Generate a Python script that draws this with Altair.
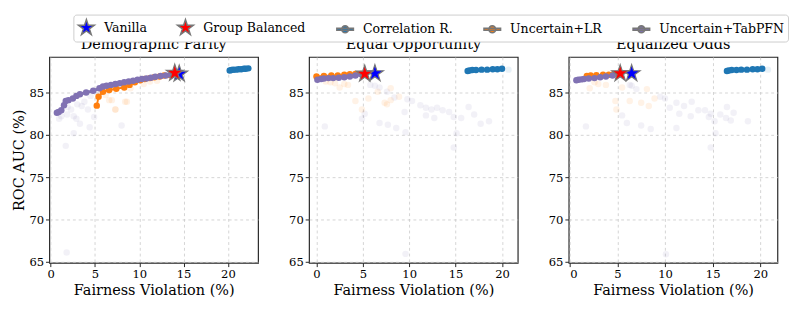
import math
import altair as alt
import pandas as pd

FONT = "DejaVu Serif"
SERIES = ["Vanilla", "Group Balanced", "Correlation R.", "Uncertain+LR", "Uncertain+TabPFN"]
C_VAN = "#0000ff"
C_GB = "#ff0000"
C_CORR = "#1f77b4"
C_LR = "#ff7f0e"
C_TAB = "#8172b3"

# ---------------- Demographic Parity ----------------
dp_tab_x = [0.7, 0.9, 1.2, 1.5, 1.7, 2.0, 2.5, 2.9, 3.3, 4.0, 4.8, 5.5, 5.9, 6.3, 6.8, 7.3, 7.8, 8.3, 8.8, 9.3, 9.8, 10.3, 10.8, 11.3, 11.8, 12.4, 13.0, 13.6]
dp_tab_y = [82.6, 82.7, 82.9, 83.5, 84.0, 84.1, 84.3, 84.6, 84.8, 85.0, 85.2, 85.5, 85.7, 85.8, 85.9, 86.0, 86.1, 86.2, 86.3, 86.4, 86.5, 86.6, 86.65, 86.75, 86.85, 86.95, 87.0, 87.1]
dp_lr_x = [5.2, 5.4, 5.9, 6.6, 7.4, 8.3, 8.9, 9.5, 10.1, 10.6, 11.2, 11.7, 12.3, 12.8, 13.5]
dp_lr_y = [83.45, 84.5, 85.1, 85.3, 85.45, 85.6, 85.9, 86.2, 86.45, 86.6, 86.7, 86.8, 86.9, 87.0, 87.05]
dp_corr_x = [20.2, 20.4, 20.6, 20.9, 21.2, 21.5, 21.8, 22.0, 22.3]
dp_corr_y = [87.6, 87.65, 87.7, 87.7, 87.75, 87.75, 87.8, 87.8, 87.85]
dp_van = (14.5, 87.2)
dp_gb = (14.0, 87.3)
dp_ftab_x = [0.95, 1.85, 2.6, 2.9, 3.3, 3.5, 4.2, 4.4, 4.9, 2.6, 1.7, 8.0, 1.9, 3.8, 1.2, 2.3, 3.0, 4.5, 1.8, 5.5, 6.0]
dp_ftab_y = [81.9, 82.4, 82.2, 81.9, 81.3, 83.4, 83.0, 80.9, 82.1, 80.2, 78.7, 81.1, 83.3, 83.9, 82.2, 83.0, 83.6, 84.6, 66.1, 85.0, 85.3]
dp_flr_x = [6.6, 7.3, 8.4, 6.9, 8.6, 7.3, 9.0, 10.5, 12.0, 6.2, 11.2]
dp_flr_y = [84.1, 83.0, 83.9, 84.1, 83.9, 83.0, 85.5, 86.0, 86.4, 84.7, 86.3]
dp_fcorr_x = []
dp_fcorr_y = []

# ---------------- Equal Opportunity ----------------
eo_tab_x = [0.1, 0.5, 0.8, 1.3, 1.8, 2.4, 3.0, 3.6, 4.2, 4.9]
eo_tab_y = [86.5, 86.6, 86.65, 86.7, 86.7, 86.75, 86.8, 86.9, 87.0, 87.1]
eo_lr_x = [0.0, 0.8, 1.6, 2.3, 3.0, 3.6, 4.2, 4.8]
eo_lr_y = [86.9, 86.95, 87.0, 87.0, 87.1, 87.15, 87.2, 87.2]
eo_corr_x = [16.3, 16.5, 16.8, 17.2, 17.8, 18.4, 19.0, 19.5, 20.0]
eo_corr_y = [87.55, 87.6, 87.65, 87.65, 87.7, 87.7, 87.75, 87.75, 87.8]
eo_van = (6.3, 87.25)
eo_gb = (5.2, 87.2)
eo_ftab_x = [6.3, 6.8, 7.6, 8.4, 9.8, 10.3, 11.2, 11.8, 12.4, 13.0, 13.6, 11.8, 12.7, 14.3, 14.8, 15.6, 16.4, 17.0, 17.7, 18.6, 15.1, 14.8, 0.9, 4.9, 5.2, 6.8, 7.7, 8.6, 9.6, 9.5, 9.6, 5.8]
eo_ftab_y = [85.8, 85.6, 85.1, 84.4, 84.2, 84.0, 83.5, 83.2, 83.0, 83.2, 82.9, 82.3, 82.0, 82.7, 82.1, 82.0, 83.3, 82.4, 81.3, 81.6, 80.2, 78.5, 81.0, 81.9, 82.5, 81.4, 81.2, 80.8, 80.3, 82.7, 65.95, 85.9]
eo_flr_x = [1.5, 2.0, 2.5, 3.4, 4.2, 4.9, 5.6, 6.6, 7.35, 8.0, 8.0, 8.9, 7.6, 1.0, 3.0]
eo_flr_y = [86.2, 86.1, 85.6, 85.9, 84.0, 83.0, 84.3, 85.1, 83.8, 84.1, 85.5, 84.5, 83.6, 86.3, 86.0]
eo_fcorr_x = [20.7]
eo_fcorr_y = [87.7]

# ---------------- Equalized Odds ----------------
eod_tab_x = [0.7, 0.9, 1.2, 1.5, 2.0, 2.6, 3.2, 3.8, 4.5]
eod_tab_y = [86.45, 86.5, 86.55, 86.6, 86.65, 86.7, 86.8, 86.9, 87.0]
eod_lr_x = [1.8, 2.2, 2.8, 3.5, 4.1, 4.6]
eod_lr_y = [86.95, 87.0, 87.05, 87.1, 87.1, 87.15]
eod_corr_x = [16.5, 16.7, 17.0, 17.5, 18.0, 18.6, 19.2, 19.7, 20.2]
eod_corr_y = [87.55, 87.6, 87.65, 87.65, 87.7, 87.7, 87.75, 87.75, 87.8]
eod_van = (6.5, 87.25)
eod_gb = (5.3, 87.25)
eod_ftab_x = [1.7, 5.5, 6.0, 6.5, 7.0, 7.5, 8.5, 9.5, 10.0, 10.5, 11.2, 11.5, 12.0, 12.7, 12.8, 13.5, 14.2, 14.6, 14.8, 15.2, 15.8, 16.4, 16.5, 17.2, 16.9, 18.7, 15.3, 14.8, 11.2, 10.1, 6.3]
eod_ftab_y = [81.0, 82.3, 81.4, 85.8, 85.4, 81.1, 80.7, 84.5, 84.3, 83.2, 83.8, 82.5, 83.4, 82.2, 83.9, 82.9, 82.9, 82.1, 82.5, 81.6, 82.4, 82.0, 83.3, 82.6, 81.7, 81.6, 80.2, 78.5, 80.8, 65.9, 85.9]
eod_flr_x = [2.1, 4.8, 4.9, 6.3, 7.5, 8.1, 8.3, 8.9, 3.0, 3.8, 2.6, 5.5]
eod_flr_y = [85.5, 84.0, 83.0, 84.0, 83.8, 85.4, 83.4, 84.3, 86.0, 85.9, 86.2, 85.6]
eod_fcorr_x = [20.8]
eod_fcorr_y = [87.7]

x_ticks = [0, 5, 10, 15, 20]
y_ticks = [65, 70, 75, 80, 85]
y_domain = [64.9, 89.2]


# marker glyphs (Vega has no built-in star): unit-range SVG paths
def _poly(points):
    return "M" + "L".join(f"{px:.3f},{py:.3f}" for px, py in points) + "Z"


STAR = _poly([((1.0 if k % 2 == 0 else 0.382) * math.cos(math.radians(-90 + 36 * k)),
               (1.0 if k % 2 == 0 else 0.382) * math.sin(math.radians(-90 + 36 * k)))
              for k in range(10)])
LINE_SYM = (_poly([(-1, -0.12), (1, -0.12), (1, 0.12), (-1, 0.12)]) + " " +
            _poly([(0.42 * math.cos(k * math.pi / 8), 0.42 * math.sin(k * math.pi / 8)) for k in range(16)]))


def df_xy(xs, ys, series):
    return pd.DataFrame({"x": [float(v) for v in xs], "y": [float(v) for v in ys],
                         "series": [series] * len(xs)})


LEGEND = alt.Legend(orient="none", legendX=25, legendY=-44, direction="horizontal",
                    title=None, strokeColor="#cccccc", cornerRadius=3, padding=4,
                    fillColor="white", symbolSize=300, labelFont=FONT, labelFontSize=13,
                    labelColor="black", columnPadding=28, labelOffset=9)


def panel(title, xdom, tab, lr, corr, van, gb, ftab, flr, fcorr, ytitle):
    xenc = alt.X("x:Q", scale=alt.Scale(domain=xdom, nice=False, zero=False),
                 axis=alt.Axis(values=x_ticks, title="Fairness Violation (%)"))
    yenc = alt.Y("y:Q", scale=alt.Scale(domain=y_domain, nice=False, zero=False),
                 axis=alt.Axis(values=y_ticks, title=ytitle))

    layers = []
    for (xs, ys), col in [(fcorr, C_CORR), (flr, C_LR), (ftab, C_TAB)]:
        if len(xs):
            layers.append(alt.Chart(df_xy(xs, ys, "faint")).mark_circle(
                size=45, opacity=0.1, color=col).encode(x=xenc, y=yenc))

    for (xs, ys), name, col, sw in [(corr, "Correlation R.", C_CORR, 2),
                                    (lr, "Uncertain+LR", C_LR, 2),
                                    (tab, "Uncertain+TabPFN", C_TAB, 3)]:
        d = df_xy(xs, ys, name)
        layers.append(alt.Chart(d).mark_line(color=col, strokeWidth=sw).encode(x=xenc, y=yenc))
        layers.append(alt.Chart(d).mark_circle(color=col, size=45, opacity=1).encode(x=xenc, y=yenc))

    # the two stars carry the legend (scales list all five series)
    stars = pd.concat([df_xy([van[0]], [van[1]], "Vanilla"),
                       df_xy([gb[0]], [gb[1]], "Group Balanced")], ignore_index=True)
    layers.append(alt.Chart(stars).mark_point(filled=True, size=340, stroke="#777777",
                                              strokeWidth=1.2, opacity=1).encode(
        x=xenc, y=yenc,
        color=alt.Color("series:N", scale=alt.Scale(domain=SERIES, range=[C_VAN, C_GB, C_CORR, C_LR, C_TAB]),
                        legend=LEGEND),
        shape=alt.Shape("series:N", scale=alt.Scale(domain=SERIES, range=[STAR, STAR, LINE_SYM, LINE_SYM, LINE_SYM]),
                        legend=LEGEND),
    ))
    return alt.layer(*layers).properties(width=217, height=214, title=title)


p1 = panel("Demographic Parity", [-0.15, 23.4], (dp_tab_x, dp_tab_y), (dp_lr_x, dp_lr_y),
           (dp_corr_x, dp_corr_y), dp_van, dp_gb, (dp_ftab_x, dp_ftab_y), (dp_flr_x, dp_flr_y),
           (dp_fcorr_x, dp_fcorr_y), "ROC AUC (%)")
p2 = panel("Equal Opportunity", [-0.8, 21.7], (eo_tab_x, eo_tab_y), (eo_lr_x, eo_lr_y),
           (eo_corr_x, eo_corr_y), eo_van, eo_gb, (eo_ftab_x, eo_ftab_y), (eo_flr_x, eo_flr_y),
           (eo_fcorr_x, eo_fcorr_y), "")
p3 = panel("Equalized Odds", [-0.1, 21.8], (eod_tab_x, eod_tab_y), (eod_lr_x, eod_lr_y),
           (eod_corr_x, eod_corr_y), eod_van, eod_gb, (eod_ftab_x, eod_ftab_y), (eod_flr_x, eod_flr_y),
           (eod_fcorr_x, eod_fcorr_y), "")

chart = (
    alt.hconcat(p1, p2, p3, spacing=30)
    .properties(padding={"left": 3, "top": 0, "right": 0, "bottom": 0})
    .configure_view(stroke="#222222", strokeWidth=1.2)
    .configure_axis(labelFont=FONT, labelFontSize=12, labelColor="black",
                    titleFont=FONT, titleFontSize=15, titleFontWeight="normal", titleColor="black",
                    domain=False, tickColor="#222222", tickSize=4, labelPadding=2,
                    grid=True, gridColor="#c8c8c8", gridDash=[3, 3], gridWidth=0.8)
    .configure_axisY(titlePadding=3)
    .configure_title(font=FONT, fontSize=15, fontWeight="normal", color="black", offset=5)
)

chart.save("out.html", embed_options={"renderer": "svg", "actions": False})
